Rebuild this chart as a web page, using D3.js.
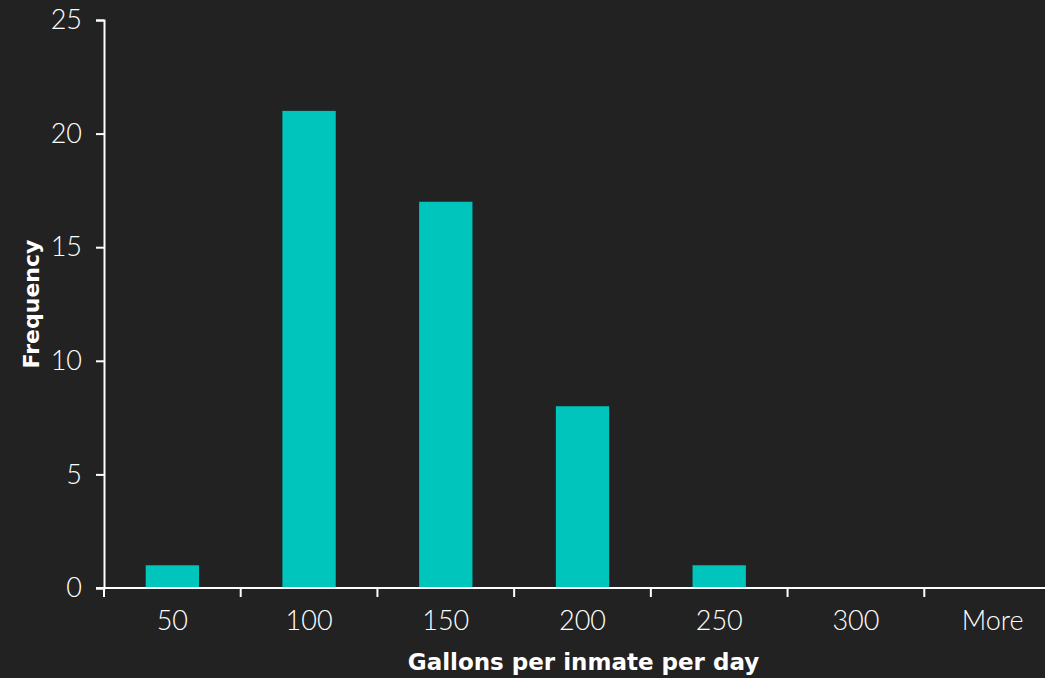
<!DOCTYPE html>
<html><head><meta charset="utf-8">
<script src="https://cdn.jsdelivr.net/npm/d3@7"></script>
<style>html,body{margin:0;padding:0;background:#222222;}svg{display:block;}</style>
</head><body><svg id="c" width="1045" height="678"></svg>
<script>
const categories = ["50","100","150","200","250","300","More"];
const frequency = [1,21,17,8,1,0,0];
const yTicks = [0,5,10,15,20,25];
const xTitle = "Gallons per inmate per day";
const yTitle = "Frequency";

const svg = d3.select("#c");
const W = 1045, H = 678;
svg.append("rect").attr("width",W).attr("height",H).attr("fill","#222222");
const m = {left:104, top:20, bottom:90, right:-16};
const x = d3.scaleBand().domain(categories).range([m.left, W - m.right]).paddingInner(0.61).paddingOuter(0.305);
const xTick = d3.scaleBand().domain(categories).range([m.left, W - m.right]);
const y = d3.scaleLinear().domain([0,25]).range([H - m.bottom, m.top]);
const font = "'Lato', 'DejaVu Sans', sans-serif";
const titleFont = "'DejaVu Sans', sans-serif";

svg.append("g").selectAll("rect").data(frequency).join("rect")
  .attr("x",(d,i)=>x(categories[i]))
  .attr("y",d=>y(d))
  .attr("width",x.bandwidth())
  .attr("height",d=>y(0)-y(d))
  .attr("fill","#00C5BC");

// y axis
const ya = svg.append("g").attr("transform",`translate(${m.left},0)`)
  .call(d3.axisLeft(y).tickValues(yTicks).tickSize(8).tickPadding(14));
ya.select(".domain").attr("stroke","#ffffff").attr("stroke-width",2);
ya.selectAll(".tick line").attr("stroke","#ffffff").attr("stroke-width",2);
ya.selectAll(".tick text").attr("fill","#ffffff").style("font-family",font).style("font-size","27px").style("font-weight","300");

// x axis
const xa = svg.append("g").attr("transform",`translate(0,${y(0)})`)
  .call(d3.axisBottom(x).tickSize(0).tickPadding(23));
xa.select(".domain").remove();
svg.append("line").attr("x1",m.left-8).attr("x2",W).attr("y1",y(0)).attr("y2",y(0)).attr("stroke","#ffffff").attr("stroke-width",2);
svg.append("g").selectAll("line").data(categories).join("line")
  .attr("x1",d=>xTick(d)).attr("x2",d=>xTick(d))
  .attr("y1",y(0)).attr("y2",y(0)+9)
  .attr("stroke","#ffffff").attr("stroke-width",2);
xa.selectAll(".tick text").attr("fill","#ffffff").style("font-family",font).style("font-size","27px").style("font-weight","300");

svg.append("text").attr("x",(m.left + W - m.right)/2 + 1).attr("y",670)
  .attr("text-anchor","middle").attr("fill","#ffffff")
  .style("font-family",titleFont).style("font-size","23px").style("font-weight","bold").text(xTitle);
svg.append("text").attr("transform",`translate(39,${(y(0)+y(25))/2}) rotate(-90)`)
  .attr("text-anchor","middle").attr("fill","#ffffff")
  .style("font-family",titleFont).style("font-size","22px").style("font-weight","bold").text(yTitle);
</script></body></html>
